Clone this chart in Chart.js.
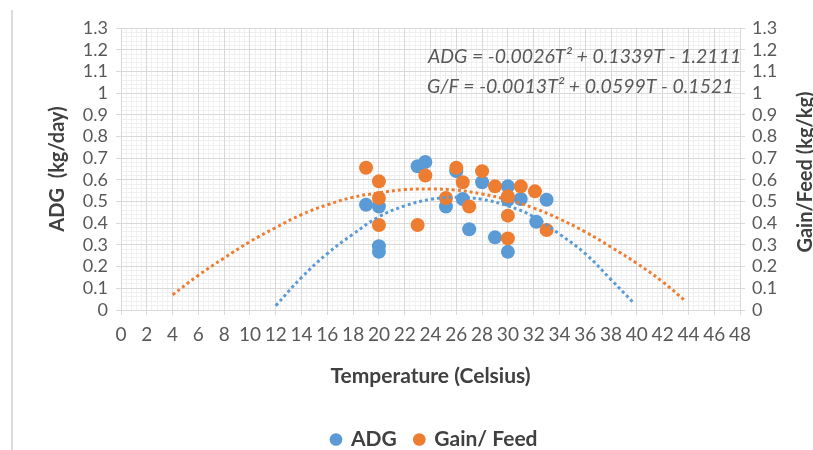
<!DOCTYPE html>
<html>
<head>
<meta charset="utf-8">
<script src="https://cdn.jsdelivr.net/npm/chart.js@4.4.1/dist/chart.umd.min.js"></script>
<style>
  html, body { margin: 0; padding: 0; background: #fff; }
  #wrap { position: relative; width: 813px; height: 450px; }
  #edge { position: absolute; left: 11px; top: 10px; width: 2px; height: 440px; background: #dcdcdc; }
  canvas { position: absolute; left: 0; top: 0; }
</style>
</head>
<body>
<div id="wrap">
  <div id="edge"></div>
  <canvas id="chart" width="813" height="450"></canvas>
</div>
<script>
// measured points (temperature, value)
const adgTemp   = [19, 20, 20, 20, 23, 23.6, 25.2, 26, 26.5, 27, 28, 29, 30, 30, 30, 31, 32.2, 33];
const adgValues = [0.485, 0.477, 0.294, 0.268, 0.663, 0.682, 0.477, 0.64, 0.512, 0.372, 0.589, 0.335, 0.57, 0.508, 0.268, 0.512, 0.407, 0.508];

const gfTemp   = [19, 20, 20, 20, 23, 23.6, 25.2, 26, 26.5, 27, 28, 29, 30, 30, 30, 31, 32.1, 33];
const gfValues = [0.656, 0.593, 0.516, 0.392, 0.392, 0.62, 0.516, 0.656, 0.589, 0.477, 0.64, 0.57, 0.524, 0.435, 0.33, 0.57, 0.547, 0.369];

// polynomial trendlines
const adgTrendTemp   = [12, 14, 16, 18, 20, 22, 24, 26, 28, 30, 32, 34, 36, 38, 39.8];
const adgTrendValues = [0.02, 0.15, 0.26, 0.35, 0.43, 0.48, 0.51, 0.52, 0.51, 0.48, 0.43, 0.35, 0.26, 0.14, 0.03];

const gfTrendTemp   = [4, 6, 8, 10, 12, 14, 16, 18, 20, 22, 24, 26, 28, 30, 32, 34, 36, 38, 40, 42, 43.8];
const gfTrendValues = [0.07, 0.16, 0.24, 0.315, 0.38, 0.44, 0.485, 0.52, 0.54, 0.555, 0.558, 0.553, 0.535, 0.508, 0.47, 0.42, 0.36, 0.29, 0.215, 0.13, 0.04];

const seriesNames = ['ADG', 'Gain/ Feed'];
const equations = [
    'ADG = -0.0026T\u00B2 + 0.1339T - 1.2111',
    'G/F = -0.0013T\u00B2 + 0.0599T - 0.1521'
];
const xTitle = 'Temperature (Celsius)';
const yTitle = 'ADG  (kg/day)';
const y2Title = 'Gain/Feed (kg/kg)';

const BLUE = '#5b9bd5';
const ORANGE = '#ed7d31';
const FONT = 'Lato';

function pairs(xs, ys) {
    return xs.map((x, i) => ({ x: x, y: ys[i] }));
}

const tickFont = { family: FONT, size: 18 };
const fmt = v => String(+v.toFixed(1));

// equations and the right axis title (drawn bottom-to-top like Excel)
const notes = {
    id: 'notes',
    afterLayout(chart) {
        // legend sits under the plot centre, not the canvas centre
        chart.legend.left += 28;
        chart.legend.right += 28;
    },
    afterDraw(chart) {
        const ctx = chart.ctx;
        ctx.save();
        ctx.fillStyle = '#595959';
        ctx.font = 'italic 19.5px ' + FONT;
        ctx.textBaseline = 'middle';
        ctx.fillText(equations[0], 428, 57);
        ctx.fillText(equations[1], 427, 87);
        ctx.translate(806, 172);
        ctx.rotate(-Math.PI / 2);
        ctx.textAlign = 'center';
        ctx.font = 'bold 20px ' + FONT;
        ctx.fillStyle = '#404040';
        ctx.fillText(y2Title, 0, 0);
        ctx.restore();
    }
};

new Chart(document.getElementById('chart'), {
    type: 'scatter',
    data: {
        datasets: [
            {
                label: seriesNames[0],
                data: pairs(adgTemp, adgValues),
                backgroundColor: BLUE,
                borderColor: BLUE,
                pointRadius: 7,
                pointHoverRadius: 7,
                borderWidth: 0,
                order: 3
            },
            {
                label: seriesNames[1],
                data: pairs(gfTemp, gfValues),
                backgroundColor: ORANGE,
                borderColor: ORANGE,
                pointRadius: 7,
                pointHoverRadius: 7,
                borderWidth: 0,
                order: 2
            },
            {
                label: 'ADG trend',
                type: 'line',
                data: pairs(adgTrendTemp, adgTrendValues),
                borderColor: BLUE,
                borderWidth: 3,
                borderDash: [3, 3],
                pointRadius: 0,
                tension: 0.4,
                fill: false,
                order: 1
            },
            {
                label: 'G/F trend',
                type: 'line',
                data: pairs(gfTrendTemp, gfTrendValues),
                borderColor: ORANGE,
                borderWidth: 3,
                borderDash: [3, 3],
                pointRadius: 0,
                tension: 0.4,
                fill: false,
                order: 0
            }
        ]
    },
    options: {
        responsive: false,
        animation: false,
        layout: { padding: { top: 28, left: 0, right: 0, bottom: -10 } },
        plugins: {
            tooltip: { enabled: false },
            legend: {
                position: 'bottom',
                labels: {
                    usePointStyle: true,
                    boxWidth: 9,
                    boxHeight: 9,
                    padding: 18,
                    color: '#404040',
                    font: { family: FONT, size: 21, weight: 'bold' },
                    filter: item => item.datasetIndex < 2,
                    sort: (a, b) => a.datasetIndex - b.datasetIndex
                }
            }
        },
        scales: {
            x: {
                type: 'linear',
                min: 0,
                max: 48,
                ticks: { stepSize: 2, autoSkip: false, maxRotation: 0, color: '#595959', font: { family: FONT, size: 19 }, padding: 8 },
                grid: { color: '#d9d9d9', tickLength: 5, z: 0 },
                border: { color: '#d9d9d9' },
                title: { display: true, text: xTitle, color: '#404040', font: { family: FONT, size: 21, weight: 'bold' }, padding: { top: 0, bottom: 22 } },
                afterFit: s => { s.height = 101; }
            },
            xm: {
                type: 'linear',
                position: 'bottom',
                min: 0,
                max: 48,
                ticks: { display: false, stepSize: 0.4 },
                grid: { color: '#f0f0f0', drawTicks: false, z: -1 },
                border: { display: false },
                afterFit: s => { s.height = 0; }
            },
            y: {
                position: 'left',
                min: 0,
                max: 1.3,
                ticks: { stepSize: 0.1, autoSkip: false, color: '#595959', font: tickFont, padding: 8, callback: fmt },
                grid: { color: '#d9d9d9', tickLength: 5, z: 0 },
                border: { color: '#d9d9d9' },
                title: { display: true, text: yTitle, color: '#404040', font: { family: FONT, size: 20, weight: 'bold' }, padding: { top: 46, bottom: 0 } },
                afterFit: s => { s.width = 121; }
            },
            ym: {
                position: 'left',
                min: 0,
                max: 1.3,
                ticks: { display: false, stepSize: 0.02 },
                grid: { color: '#f0f0f0', drawTicks: false, z: -1 },
                border: { display: false },
                afterFit: s => { s.width = 0; }
            },
            y2: {
                position: 'right',
                min: 0,
                max: 1.3,
                ticks: { stepSize: 0.1, autoSkip: false, color: '#595959', font: tickFont, padding: 7, callback: fmt },
                grid: { drawOnChartArea: false, color: '#d9d9d9', tickLength: 5 },
                border: { color: '#d9d9d9' },
                afterFit: s => { s.width = 73; }
            }
        }
    },
    plugins: [notes]
});
</script>
</body>
</html>
